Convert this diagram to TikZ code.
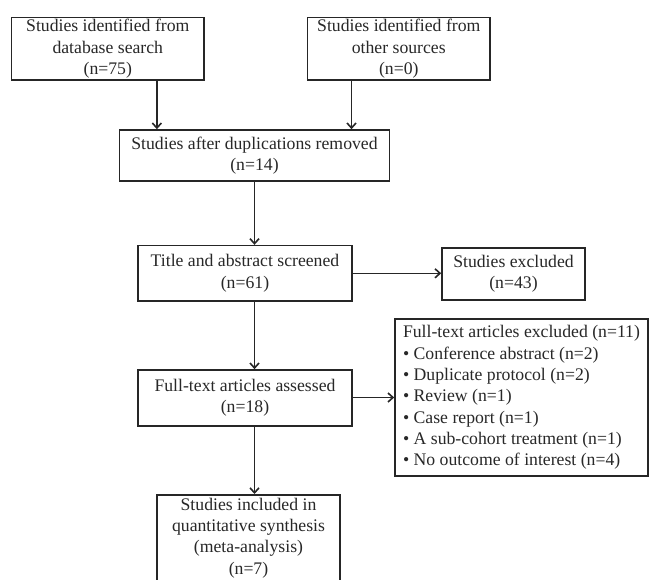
\documentclass[tikz,border=0pt]{standalone}
\usepackage{fontspec}
\setmainfont{Liberation Serif}
\usetikzlibrary{arrows.meta,calc}
\definecolor{linec}{RGB}{38,38,38}
\definecolor{textc}{RGB}{40,40,40}
\newcommand{\mainfs}{\fontsize{17.7}{21.3}\selectfont}
\begin{document}
\begin{tikzpicture}[x=1pt,y=-1pt,
  box/.style={draw=linec, line width=1.6pt, align=center, inner sep=0pt, font=\mainfs, text=textc},
  listbox/.style={draw=linec, line width=1.6pt, align=left, inner sep=0pt, font=\mainfs, text=textc},
  arr/.style={draw=linec, line width=1.6pt, -{Straight Barb[length=5pt,width=9pt]}}]
\useasboundingbox (0,0) rectangle (651,579);
\clip (0,0) rectangle (651,579);
\fill[white] (0,0) rectangle (651,579);

\node[box, minimum width=192.4pt, minimum height=62.7pt] (b1) at (107.8,48.7)
  {Studies identified from\\database search\\(n=75)};
\node[box, minimum width=182.4pt, minimum height=62.7pt] (b2) at (398.8,48.7)
  {Studies identified from\\other sources\\(n=0)};
\node[box, minimum width=269.8pt, minimum height=51pt] (b3) at (254.5,155.5)
  {Studies after duplications removed\\(n=14)};
\node[box, minimum width=214pt, minimum height=55.3pt] (b4) at (245,273.3)
  {Title and abstract screened\\(n=61)};
\node[box, minimum width=143pt, minimum height=52pt] (b5) at (513.5,274)
  {Studies excluded\\(n=43)};
\node[box, minimum width=214pt, minimum height=56pt] (b6) at (245,398)
  {Full-text articles assessed\\(n=18)};
\node[listbox, minimum width=253pt, minimum height=157pt] (b7) at (521.5,397.5)
  {Full-text articles excluded (n=11)\\
   • Conference abstract (n=2)\\
   • Duplicate protocol (n=2)\\
   • Review (n=1)\\
   • Case report (n=1)\\
   • A sub-cohort treatment (n=1)\\
   • No outcome of interest (n=4)};
\node[box, minimum width=183pt, minimum height=86pt, anchor=north] (b8) at (248.5,494)
  {Studies included in\\quantitative synthesis\\(meta-analysis)\\(n=7)};
% box continues past the lower edge of the picture
\draw[draw=linec, line width=1.6pt] (b8.south west) -- ++(0,20);
\draw[draw=linec, line width=1.6pt] (b8.south east) -- ++(0,20);

\coordinate (s1) at ($(b1.south west)!0.753!(b1.south east)$);
\coordinate (s2) at ($(b2.south west)!0.243!(b2.south east)$);
\coordinate (s3) at ($(b3.south west)!0.5!(b3.south east)$);
\draw[arr] (s1) -- (s1 |- b3.north);
\draw[arr] (s2) -- (s2 |- b3.north);
\draw[arr] (s3) -- (s3 |- b4.north);
\draw[arr] (s3 |- b4.south) -- (s3 |- b6.north);
\draw[arr] (s3 |- b6.south) -- (s3 |- b8.north);
\draw[arr] (b4.east) -- (b4.east -| b5.west);
\draw[arr] (b6.east |- b7.west) -- (b7.west);
\end{tikzpicture}
\end{document}
